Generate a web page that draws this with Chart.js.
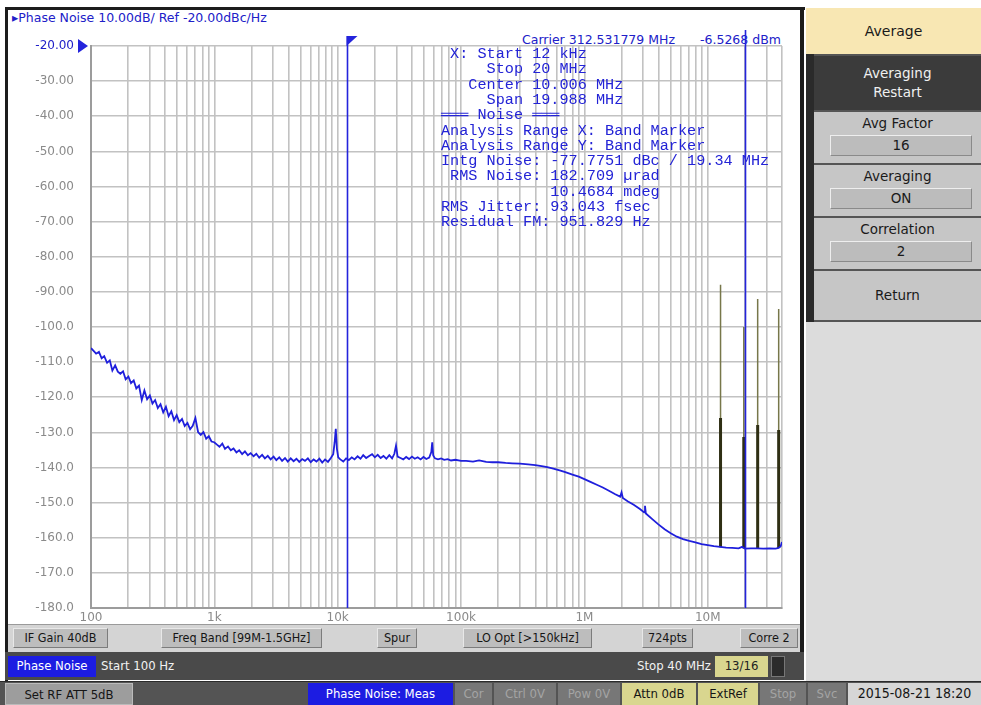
<!DOCTYPE html>
<html><head><meta charset="utf-8">
<script src="https://cdn.jsdelivr.net/npm/chart.js@4.4.1/dist/chart.umd.min.js"></script>
<style>
html,body{margin:0;padding:0;background:#fff;width:981px;height:705px;overflow:hidden;font-family:"DejaVu Sans Condensed","DejaVu Sans",sans-serif;}
.a{position:absolute;box-sizing:border-box;white-space:nowrap;}
.btn{position:absolute;box-sizing:border-box;background:#bdbdbd;border:1px solid #7c7c7c;border-top-color:#e8e8e8;border-left-color:#e8e8e8;color:#151515;font-size:12.5px;text-align:center;white-space:nowrap;}
.st{position:absolute;box-sizing:border-box;font-size:13px;text-align:center;white-space:nowrap;}
.rp{position:absolute;box-sizing:border-box;left:814px;width:167px;background:#c6c6c6;border-top:2px solid #555;text-align:center;font-family:"DejaVu Sans",sans-serif;font-size:13.5px;color:#1a1a1a;}
.box{position:absolute;left:16px;width:142px;height:21px;background:#bcbcbc;border:1px solid #8a8a8a;border-top-color:#eee;border-left-color:#eee;line-height:19px;box-sizing:border-box;}
#c{position:absolute;left:0;top:0;z-index:5;}
</style></head>
<body>
<!-- plot panel frame -->
<div class="a" style="left:8px;top:9px;width:794px;height:615px;background:#fff;"></div>
<div class="a" style="left:5px;top:7px;width:800px;height:3px;background:#1c1c1c;"></div>
<div class="a" style="left:5px;top:7px;width:3px;height:675px;background:#1c1c1c;"></div>
<div class="a" style="left:800px;top:7px;width:4px;height:645px;background:#1c1c1c;"></div>
<div class="a" style="left:12px;top:10px;font-family:'DejaVu Sans',sans-serif;font-size:12.5px;color:#2020c8;">▸Phase Noise 10.00dB/ Ref -20.00dBc/Hz</div>
<div class="a" style="left:522px;top:32px;font-family:'DejaVu Sans',sans-serif;font-size:12.5px;color:#2020c8;">Carrier 312.531779 MHz</div>
<div class="a" style="left:700px;top:32px;font-family:'DejaVu Sans',sans-serif;font-size:12.5px;color:#2020c8;">-6.5268 dBm</div>

<!-- bottom row 1 -->
<div class="a" style="left:8px;top:624px;width:792px;height:28px;background:#d4d4d4;border-top:1px solid #9a9a9a;"></div>
<div class="btn" style="left:13px;top:628px;width:95px;height:20px;line-height:18px;">IF Gain 40dB</div>
<div class="btn" style="left:161px;top:628px;width:161px;height:20px;line-height:18px;">Freq Band [99M-1.5GHz]</div>
<div class="btn" style="left:377px;top:628px;width:40px;height:20px;line-height:18px;">Spur</div>
<div class="btn" style="left:463px;top:628px;width:129px;height:20px;line-height:18px;">LO Opt [&gt;150kHz]</div>
<div class="btn" style="left:642px;top:628px;width:51px;height:20px;line-height:18px;">724pts</div>
<div class="btn" style="left:740px;top:628px;width:58px;height:20px;line-height:18px;">Corre 2</div>

<!-- bottom row 2 -->
<div class="a" style="left:5px;top:652px;width:799px;height:28px;background:#4a4a4a;"></div>
<div class="st" style="left:8px;top:656px;width:88px;height:21px;line-height:20px;background:#1c1ce2;color:#fff;">Phase Noise</div>
<div class="st" style="left:101px;top:656px;height:21px;line-height:20px;color:#f2f2f2;text-align:left;">Start 100 Hz</div>
<div class="st" style="left:600px;top:656px;width:111px;height:21px;line-height:20px;color:#f2f2f2;text-align:right;">Stop 40 MHz</div>
<div class="st" style="left:715px;top:656px;width:53px;height:21px;line-height:20px;background:#d9d68f;color:#222;">13/16</div>
<div class="st" style="left:771px;top:656px;width:14px;height:21px;background:#2b2b2b;border:1px solid #777;"></div>

<!-- bottom row 3 -->
<div class="a" style="left:0px;top:681px;width:981px;height:24px;background:#545454;border-top:1px solid #2a2a2a;"></div>
<div class="st" style="left:5px;top:683px;width:128px;height:22px;line-height:21px;background:#9d9d9d;color:#151515;border:1px solid #bbb;">Set RF ATT 5dB</div>
<div class="st" style="left:308px;top:683px;width:145px;height:22px;line-height:21px;background:#1c1ce2;color:#fff;">Phase Noise: Meas</div>
<div class="st" style="left:455px;top:683px;width:37px;height:22px;line-height:21px;background:#777;color:#a4a4a4;">Cor</div>
<div class="st" style="left:494px;top:683px;width:62px;height:22px;line-height:21px;background:#777;color:#a4a4a4;">Ctrl 0V</div>
<div class="st" style="left:558px;top:683px;width:62px;height:22px;line-height:21px;background:#777;color:#a4a4a4;">Pow 0V</div>
<div class="st" style="left:622px;top:683px;width:74px;height:22px;line-height:21px;background:#d9d68f;color:#151515;">Attn 0dB</div>
<div class="st" style="left:698px;top:683px;width:60px;height:22px;line-height:21px;background:#d9d68f;color:#151515;">ExtRef</div>
<div class="st" style="left:760px;top:683px;width:46px;height:22px;line-height:21px;background:#777;color:#a4a4a4;">Stop</div>
<div class="st" style="left:808px;top:683px;width:38px;height:22px;line-height:21px;background:#777;color:#a4a4a4;">Svc</div>
<div class="st" style="left:848px;top:683px;width:133px;height:22px;line-height:21px;background:#d6d6d6;color:#151515;font-size:14px;">2015-08-21 18:20</div>

<!-- right panel -->
<div class="a" style="left:806px;top:8px;width:175px;height:673px;background:#dcdcdc;"></div>
<div class="a" style="left:806px;top:8px;width:175px;height:46px;background:#f8e7b3;text-align:center;line-height:46px;font-family:'DejaVu Sans',sans-serif;font-size:14px;color:#1a1a1a;">Average</div>
<div class="a" style="left:806px;top:54px;width:8px;height:268px;background:#2a2a2a;"></div>
<div class="rp" style="top:54px;height:56px;background:#3b3b3b;color:#f0f0f0;line-height:19px;padding-top:8px;">Averaging<br>Restart</div>
<div class="rp" style="top:110px;height:53px;"><div style="margin-top:3px;">Avg Factor</div><div class="box" style="top:23px;">16</div></div>
<div class="rp" style="top:163px;height:53px;"><div style="margin-top:3px;">Averaging</div><div class="box" style="top:23px;">ON</div></div>
<div class="rp" style="top:216px;height:53px;"><div style="margin-top:3px;">Correlation</div><div class="box" style="top:23px;">2</div></div>
<div class="rp" style="top:269px;height:53px;line-height:48px;border-bottom:2px solid #555;">Return</div>

<canvas id="c" width="981" height="705"></canvas>
<script>
// ---------- data ----------
const noiseFreq = [100,105,110,116,122,128,135,142,149,157,165,173,182,191,201,211,222,233,245,258,271,285,300,315,331,348,366,385,405,426,448,471,495,520,547,575,605,636,668,702,738,776,816,858,902,948,997,
1050,1100,1160,1220,1290,1360,1430,1510,1590,1680,1770,1870,1970,2080,2190,2310,2440,2570,2710,2860,3020,3180,3360,3540,3740,3940,4160,4390,4630,4880,5150,5430,5730,6050,6380,6730,7100,7490,7900,8340,8800,9200,9450,9650,9850,
10100,10500,11100,11700,12300,13000,13700,14500,15300,16100,17000,18000,19000,20000,21100,22300,23500,24800,26200,27600,28800,29700,30600,32300,34000,35900,37900,40000,42200,44500,47000,49600,52300,55200,57400,58400,59500,61500,65000,69000,73000,78000,83000,90000,
100000,110000,125000,140000,160000,180000,200000,230000,260000,300000,350000,400000,450000,500000,560000,630000,700000,800000,900000,
1000000,1120000,1260000,1410000,1580000,1780000,1950000,2000000,2050000,2240000,2510000,2820000,3050000,3100000,3150000,3550000,3980000,4470000,5010000,5620000,6310000,7080000,7940000,8910000,
10000000,11200000,12600000,14100000,15800000,17800000,19000000,20000000,22400000,25100000,28200000,31600000,35500000,37600000,39000000,40000000];
const noiseDb = [-106.0,-106.8,-107.6,-107.1,-108.9,-108.3,-110.2,-109.5,-112.4,-110.9,-112.7,-113.3,-112.6,-114.9,-114.1,-116.0,-115.2,-117.5,-116.7,-120.8,-118.1,-120.6,-119.5,-121.8,-120.8,-123.1,-122.0,-124.3,-122.7,-125.4,-124.0,-126.5,-125.1,-127.1,-126.2,-128.2,-127.3,-129.1,-128.1,-125.9,-129.9,-130.7,-129.9,-131.8,-131.1,-132.6,-132.8,
-133.5,-134.1,-133.2,-134.7,-134.0,-135.1,-134.6,-135.7,-135.1,-136.2,-135.4,-136.5,-135.9,-136.8,-136.1,-137.2,-136.4,-137.4,-136.7,-137.7,-136.9,-137.9,-137.1,-138.1,-137.3,-138.3,-137.4,-138.2,-137.5,-138.4,-137.6,-138.1,-137.4,-138.5,-137.7,-138.3,-137.5,-138.6,-137.7,-138.4,-137.3,-136.2,-132.8,-129.0,-134.6,
-137.1,-137.7,-138.3,-137.4,-137.9,-137.1,-137.7,-136.8,-137.5,-136.5,-137.3,-136.7,-136.2,-137.1,-136.4,-137.3,-136.7,-137.5,-136.5,-137.4,-136.1,-133.8,-136.9,-137.3,-137.7,-137.0,-137.6,-136.9,-137.5,-137.1,-137.7,-137.0,-137.6,-137.2,-135.6,-132.8,-136.6,-137.4,-137.7,-137.4,-137.8,-137.6,-138.0,-137.8,
-138.1,-138.1,-138.3,-138.0,-138.4,-138.5,-138.5,-138.7,-138.8,-138.9,-139.1,-139.3,-139.6,-139.9,-140.3,-140.8,-141.3,-142.0,-142.6,
-143.3,-144.1,-144.9,-145.7,-146.6,-147.6,-148.3,-147.1,-148.7,-149.6,-150.6,-151.8,-152.8,-150.9,-153.1,-154.7,-156.2,-157.6,-158.7,-159.7,-160.4,-160.9,-161.3,-161.8,
-162.1,-162.4,-162.6,-162.8,-162.9,-163.0,-162.6,-163.1,-163.0,-163.0,-163.1,-163.0,-163.1,-162.9,-162.4,-161.2];

const spurFreq = [12700000, 19600000, 25400000, 37600000];
const spurTop  = [-88.0, -100.0, -92.0, -94.9];
const spurMid  = [-125.9, -131.3, -127.9, -129.3];
const spurBase = [-162.7, -163.0, -163.0, -162.9];

const markerFreq = [12000, 20000000];

const xTickValues = [100, 1000, 10000, 100000, 1000000, 10000000];
const xTickText   = ['100', '1k', '10k', '100k', '1M', '10M'];
const yTickValues = [-20,-30,-40,-50,-60,-70,-80,-90,-100,-110,-120,-130,-140,-150,-160,-170,-180];
const yTickText   = ['-20.00','-30.00','-40.00','-50.00','-60.00','-70.00','-80.00','-90.00','-100.0','-110.0','-120.0','-130.0','-140.0','-150.0','-160.0','-170.0','-180.0'];

const infoLines = [
  ' X: Start 12 kHz',
  '     Stop 20 MHz',
  '   Center 10.006 MHz',
  '     Span 19.988 MHz',
  '═══ Noise ═══',
  'Analysis Range X: Band Marker',
  'Analysis Range Y: Band Marker',
  'Intg Noise: -77.7751 dBc / 19.34 MHz',
  ' RMS Noise: 182.709 µrad',
  '            10.4684 mdeg',
  'RMS Jitter: 93.043 fsec',
  'Residual FM: 951.829 Hz'
];

// ---------- build ----------
const noiseData = noiseFreq.map((f, i) => ({x: f, y: noiseDb[i]}));
const spurThin = [], spurThick = [];
spurFreq.forEach((f, i) => {
  spurThin.push({x: f, y: spurBase[i]}, {x: f, y: spurTop[i]}, {x: f, y: null});
  spurThick.push({x: f, y: spurBase[i]}, {x: f, y: spurMid[i]}, {x: f, y: null});
});
const gridVals = [];
for (let e = 2; e <= 7; e++) for (let m = 1; m <= 9; m++) { const v = m * Math.pow(10, e); if (v <= 40000000) gridVals.push(v); }

const decor = {
  id: 'decor',
  beforeDatasetsDraw(chart) {
    const ctx = chart.ctx;
    ctx.save();
    ctx.font = '15.2px "Liberation Mono","DejaVu Sans Mono",monospace';
    ctx.fillStyle = '#2323d6';
    ctx.textBaseline = 'middle';
    infoLines.forEach((t, i) => ctx.fillText(t, 441, 54 + i * 15.3));
    ctx.restore();
  },
  afterDatasetsDraw(chart) {
    const ctx = chart.ctx, xs = chart.scales.x, ys = chart.scales.y, ca = chart.chartArea;
    ctx.save();
    ctx.strokeStyle = '#2424dc';
    ctx.fillStyle = '#2424dc';
    ctx.lineWidth = 1.6;
    markerFreq.forEach((f, i) => {
      const px = Math.round(xs.getPixelForValue(f)) + 0.5;
      const top = i === 0 ? ca.top - 10 : ca.top - 16;
      ctx.beginPath(); ctx.moveTo(px, top); ctx.lineTo(px, ca.bottom); ctx.stroke();
      if (i === 0) {
        ctx.beginPath(); ctx.moveTo(px - 1, top); ctx.lineTo(px + 10, top); ctx.lineTo(px - 1, top + 10); ctx.closePath(); ctx.fill();
      }
    });
    const ry = ys.getPixelForValue(-20);
    ctx.beginPath(); ctx.moveTo(ca.left - 13, ry - 7); ctx.lineTo(ca.left - 3, ry); ctx.lineTo(ca.left - 13, ry + 7); ctx.closePath(); ctx.fill();
    ctx.restore();
  }
};

new Chart(document.getElementById('c'), {
  type: 'line',
  data: {
    datasets: [
      {data: spurThin, borderColor: '#77774a', borderWidth: 1.5, pointRadius: 0, spanGaps: false, order: 3},
      {data: spurThick, borderColor: '#2f2f14', borderWidth: 3, pointRadius: 0, spanGaps: false, order: 2},
      {data: noiseData, borderColor: '#1f1fdc', borderWidth: 1.8, pointRadius: 0, tension: 0, order: 1}
    ]
  },
  options: {
    responsive: false,
    devicePixelRatio: 1,
    animation: false,
    events: [],
    layout: {padding: {left: 0, top: 46, right: 199, bottom: 77}},
    plugins: {legend: {display: false}, tooltip: {enabled: false}},
    scales: {
      x: {
        type: 'logarithmic', min: 100, max: 40000000,
        afterBuildTicks: s => { s.ticks = gridVals.map(v => ({value: v})); },
        afterFit: s => { s.height = 20; },
        ticks: {
          autoSkip: false, maxRotation: 0, padding: 3, color: '#8a8a8a',
          font: {family: '"DejaVu Sans", sans-serif', size: 12},
          callback: v => { const i = xTickValues.indexOf(v); return i >= 0 ? xTickText[i] : ''; }
        },
        grid: {color: '#c2c2c2', lineWidth: 1.6, drawTicks: false},
        border: {color: '#9c9c9c', width: 2}
      },
      y: {
        min: -180, max: -20,
        afterBuildTicks: s => { s.ticks = yTickValues.map(v => ({value: v})); },
        afterFit: s => { s.width = 91; },
        ticks: {
          padding: 17, color: c => c.tick.value === -20 ? '#2020c8' : '#8a8a8a',
          font: {family: '"DejaVu Sans", sans-serif', size: 12},
          callback: v => { const i = yTickValues.indexOf(v); return i >= 0 ? yTickText[i] : ''; }
        },
        grid: {color: '#c2c2c2', lineWidth: 1.6, drawTicks: false},
        border: {color: '#9c9c9c', width: 2}
      }
    }
  },
  plugins: [decor]
});
</script>
</body></html>
